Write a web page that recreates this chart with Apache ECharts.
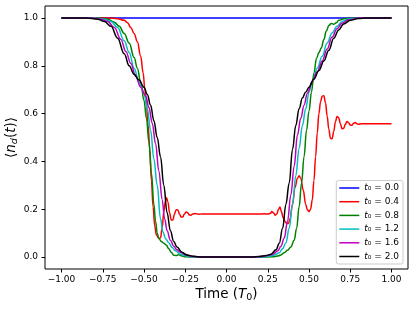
<!DOCTYPE html>
<html>
<head>
<meta charset="utf-8">
<script src="https://cdn.jsdelivr.net/npm/echarts@6/dist/echarts.min.js"></script>
<style>
html,body{margin:0;padding:0;background:#fff;}
#c{width:415px;height:309px;}
</style>
</head>
<body>
<div id="c"></div>
<script>
// legend labels (t0 values)
const labels = ['0.0', '0.4', '0.8', '1.2', '1.6', '2.0'];
const xTicks = [-1.0, -0.75, -0.5, -0.25, 0.0, 0.25, 0.5, 0.75, 1.0];
const yTicks = [0.0, 0.2, 0.4, 0.6, 0.8, 1.0];

// <n_d(t)> curves, [time, value]
const nT00 = [[-1, 1], [-0.5, 1], [0, 1], [0.5, 1], [1, 1]];

const nT04 = [[-1, 1], [-0.72, 1], [-0.66, 0.997], [-0.62, 0.99], [-0.60, 0.98], [-0.58, 0.96], [-0.56, 0.935],
  [-0.54, 0.90], [-0.52, 0.84], [-0.505, 0.77], [-0.495, 0.70], [-0.485, 0.64], [-0.475, 0.55], [-0.465, 0.45],
  [-0.455, 0.32], [-0.445, 0.21], [-0.435, 0.13], [-0.425, 0.092], [-0.41, 0.078], [-0.40, 0.08], [-0.39, 0.12],
  [-0.38, 0.19], [-0.37, 0.235], [-0.363, 0.248], [-0.355, 0.23], [-0.345, 0.185], [-0.335, 0.155], [-0.325, 0.155],
  [-0.315, 0.18], [-0.305, 0.198], [-0.295, 0.197], [-0.285, 0.18], [-0.275, 0.167], [-0.265, 0.168], [-0.255, 0.18],
  [-0.245, 0.188], [-0.235, 0.185], [-0.225, 0.176], [-0.215, 0.175], [-0.205, 0.18], [-0.19, 0.182], [-0.17, 0.179],
  [-0.15, 0.18], [-0.1, 0.18], [0, 0.18], [0.1, 0.18], [0.2, 0.18], [0.23, 0.181], [0.25, 0.18], [0.265, 0.182],
  [0.275, 0.19], [0.285, 0.185], [0.295, 0.175], [0.305, 0.18], [0.315, 0.2], [0.324, 0.209], [0.333, 0.19],
  [0.343, 0.165], [0.355, 0.15], [0.365, 0.14], [0.375, 0.14], [0.385, 0.16], [0.40, 0.22], [0.415, 0.29],
  [0.43, 0.33], [0.44, 0.34], [0.45, 0.33], [0.465, 0.28], [0.48, 0.22], [0.49, 0.198], [0.50, 0.19], [0.51, 0.2],
  [0.52, 0.24], [0.53, 0.32], [0.54, 0.42], [0.55, 0.52], [0.56, 0.60], [0.57, 0.65], [0.58, 0.673], [0.59, 0.675],
  [0.60, 0.645], [0.61, 0.59], [0.62, 0.535], [0.63, 0.497], [0.64, 0.495], [0.65, 0.525], [0.66, 0.565],
  [0.67, 0.588], [0.68, 0.583], [0.69, 0.558], [0.70, 0.537], [0.71, 0.538], [0.72, 0.555], [0.73, 0.567],
  [0.74, 0.562], [0.75, 0.552], [0.76, 0.551], [0.77, 0.56], [0.78, 0.563], [0.79, 0.558], [0.80, 0.555],
  [0.82, 0.558], [0.85, 0.557], [1.0, 0.557]];

const nT08 = [[-1, 1], [-0.78, 1], [-0.72, 0.995], [-0.68, 0.982], [-0.65, 0.965], [-0.62, 0.935], [-0.59, 0.895],
  [-0.56, 0.835], [-0.54, 0.79], [-0.52, 0.73], [-0.50, 0.655], [-0.485, 0.58], [-0.47, 0.48], [-0.455, 0.35],
  [-0.44, 0.22], [-0.43, 0.15], [-0.42, 0.10], [-0.41, 0.078], [-0.395, 0.065], [-0.38, 0.058], [-0.365, 0.05],
  [-0.35, 0.035], [-0.335, 0.02], [-0.32, 0.008], [-0.305, 0.006], [-0.29, 0.01], [-0.275, 0.005], [-0.25, 0.001],
  [-0.2, 0], [0.2, 0], [0.28, 0.001], [0.31, 0.004], [0.33, 0.009], [0.35, 0.018], [0.37, 0.028], [0.39, 0.042],
  [0.41, 0.07], [0.425, 0.12], [0.44, 0.21], [0.455, 0.31], [0.47, 0.42], [0.485, 0.53], [0.50, 0.61],
  [0.515, 0.69], [0.53, 0.77], [0.545, 0.83], [0.56, 0.855], [0.575, 0.875], [0.59, 0.91], [0.605, 0.945],
  [0.62, 0.968], [0.635, 0.977], [0.65, 0.974], [0.665, 0.98], [0.68, 0.99], [0.72, 0.998], [0.78, 1], [1, 1]];

const nT12 = [[-1, 1], [-0.80, 1], [-0.74, 0.995], [-0.70, 0.985], [-0.66, 0.96], [-0.62, 0.905], [-0.59, 0.855],
  [-0.56, 0.79], [-0.53, 0.73], [-0.50, 0.685], [-0.48, 0.62], [-0.46, 0.53], [-0.44, 0.41], [-0.42, 0.30],
  [-0.40, 0.16], [-0.385, 0.105], [-0.37, 0.078], [-0.35, 0.06], [-0.33, 0.04], [-0.31, 0.026], [-0.28, 0.012],
  [-0.24, 0.004], [-0.2, 0], [0.2, 0], [0.25, 0.003], [0.29, 0.008], [0.32, 0.018], [0.34, 0.035], [0.36, 0.06],
  [0.38, 0.12], [0.40, 0.22], [0.42, 0.34], [0.44, 0.455], [0.46, 0.55], [0.48, 0.62], [0.50, 0.69], [0.52, 0.735],
  [0.55, 0.79], [0.58, 0.84], [0.61, 0.895], [0.64, 0.937], [0.67, 0.965], [0.70, 0.985], [0.74, 0.996],
  [0.80, 1], [1, 1]];

const nT16 = [[-1, 1], [-0.82, 1], [-0.76, 0.995], [-0.72, 0.985], [-0.68, 0.96], [-0.64, 0.91], [-0.61, 0.86],
  [-0.58, 0.81], [-0.55, 0.755], [-0.52, 0.71], [-0.49, 0.675], [-0.47, 0.625], [-0.45, 0.56], [-0.43, 0.475],
  [-0.41, 0.36], [-0.39, 0.24], [-0.375, 0.16], [-0.36, 0.11], [-0.34, 0.07], [-0.32, 0.045], [-0.30, 0.03],
  [-0.28, 0.02], [-0.25, 0.01], [-0.21, 0.003], [-0.15, 0], [0.15, 0], [0.21, 0.002], [0.25, 0.006],
  [0.28, 0.012], [0.31, 0.025], [0.33, 0.045], [0.35, 0.08], [0.37, 0.15], [0.39, 0.26], [0.41, 0.38],
  [0.43, 0.51], [0.45, 0.58], [0.47, 0.635], [0.49, 0.685], [0.52, 0.735], [0.55, 0.775], [0.58, 0.82],
  [0.61, 0.87], [0.64, 0.92], [0.67, 0.955], [0.70, 0.978], [0.74, 0.992], [0.80, 1], [1, 1]];

const nT20 = [[-1, 1], [-0.85, 1], [-0.78, 0.995], [-0.74, 0.985], [-0.70, 0.965], [-0.66, 0.915], [-0.62, 0.85],
  [-0.59, 0.80], [-0.56, 0.765], [-0.53, 0.74], [-0.50, 0.71], [-0.48, 0.68], [-0.46, 0.635], [-0.44, 0.57],
  [-0.42, 0.50], [-0.40, 0.42], [-0.38, 0.30], [-0.36, 0.185], [-0.34, 0.11], [-0.32, 0.065], [-0.30, 0.042],
  [-0.27, 0.02], [-0.24, 0.009], [-0.20, 0.003], [-0.15, 0], [0.15, 0], [0.20, 0.002], [0.24, 0.006],
  [0.27, 0.012], [0.30, 0.03], [0.32, 0.058], [0.34, 0.12], [0.36, 0.22], [0.38, 0.31], [0.40, 0.45],
  [0.42, 0.55], [0.44, 0.62], [0.46, 0.665], [0.48, 0.69], [0.50, 0.71], [0.53, 0.745], [0.56, 0.78],
  [0.59, 0.82], [0.62, 0.865], [0.65, 0.915], [0.68, 0.95], [0.71, 0.975], [0.75, 0.99], [0.80, 0.998],
  [0.85, 1], [1, 1]];

const curves = [nT00, nT04, nT08, nT12, nT16, nT20];
const colors = ['#0000ff', '#ff0000', '#008000', '#00bfbf', '#bf00bf', '#000000'];

const FONT = 'DejaVu Sans';
const chart = echarts.init(document.getElementById('c'), null, {renderer: 'canvas'});

function fmtX(v) {
  const s = Math.abs(v).toFixed(2);
  return (v < -1e-9 ? '\u2212' : '') + s;
}

const option = {
  animation: false,
  backgroundColor: '#ffffff',
  grid: {left: 45, right: 7, top: 6, bottom: 40, containLabel: false, outerBoundsMode: 'none',
    show: true, borderColor: '#000', borderWidth: 1, backgroundColor: 'transparent'},
  xAxis: {
    type: 'value', min: -1.1, max: 1.1,
    splitLine: {show: false},
    axisLine: {show: false, onZero: false},
    axisTick: {show: true, inside: false, length: 3.5, lineStyle: {color: '#000'}, customValues: xTicks},
    axisLabel: {customValues: xTicks, formatter: fmtX, color: '#000', fontFamily: FONT, fontSize: 9, margin: 6},
    name: '{a|Time (}{i|T}{s|0}{a|)}',
    nameLocation: 'middle', nameGap: 16, nameMoveOverlap: false,
    nameTextStyle: {
      fontFamily: FONT, color: '#000',
      rich: {
        a: {fontFamily: FONT, fontSize: 13.5, color: '#000', lineHeight: 18, verticalAlign: 'middle'},
        i: {fontFamily: FONT, fontSize: 13.5, fontStyle: 'italic', color: '#000', lineHeight: 18, verticalAlign: 'middle'},
        s: {fontFamily: FONT, fontSize: 9.5, color: '#000', lineHeight: 18, verticalAlign: 'bottom'}
      }
    }
  },
  yAxis: {
    type: 'value', min: -0.05, max: 1.05,
    splitLine: {show: false},
    axisLine: {show: false, onZero: false},
    axisTick: {show: true, inside: false, length: 3.5, lineStyle: {color: '#000'}, customValues: yTicks},
    axisLabel: {customValues: yTicks, formatter: v => v.toFixed(1), color: '#000', fontFamily: FONT, fontSize: 9, margin: 7},
    name: '{a|\u27e8}{i|n}{s|d}{a|(}{i|t}{a|)\u27e9}',
    nameLocation: 'middle', nameGap: 25, nameRotate: 90, nameMoveOverlap: false,
    nameTextStyle: {
      fontFamily: FONT, color: '#000',
      rich: {
        a: {fontFamily: FONT, fontSize: 13.5, color: '#000', lineHeight: 18, verticalAlign: 'middle'},
        i: {fontFamily: FONT, fontSize: 13.5, fontStyle: 'italic', color: '#000', lineHeight: 18, verticalAlign: 'middle'},
        s: {fontFamily: FONT, fontSize: 9.5, fontStyle: 'italic', color: '#000', lineHeight: 18, verticalAlign: 'bottom'}
      }
    }
  },
  legend: {
    orient: 'vertical', right: 12, bottom: 45,
    data: labels.map((l, k) => ({name: l, icon: 'path://M0,0L20,0L20,1.5L0,1.5Z', itemStyle: {color: colors[k]}})),
    symbolKeepAspect: true,
    backgroundColor: 'rgba(255,255,255,0.8)', borderColor: '#cccccc', borderWidth: 1, borderRadius: 2,
    padding: [3, 4, 3, 3],
    itemWidth: 20, itemHeight: 10, itemGap: 4.7, itemTextGap: 6,
    formatter: name => '{i|t}{n|\u2080 = ' + name + '}',
    textStyle: {
      fontFamily: FONT, fontSize: 9, color: '#000',
      rich: {
        i: {fontFamily: FONT, fontSize: 9, fontStyle: 'italic', color: '#000'},
        n: {fontFamily: FONT, fontSize: 9, color: '#000'}
      }
    }
  },
  series: curves.map((d, k) => ({
    name: labels[k],
    type: 'line',
    data: d,
    symbol: 'none',
    showSymbol: false,
    smooth: 0.4,
    smoothMonotone: 'x',
    lineStyle: {color: colors[k], width: 1.5},
    itemStyle: {color: colors[k]},
    z: 2 + k
  }))
};
chart.setOption(option);
</script>
</body>
</html>
